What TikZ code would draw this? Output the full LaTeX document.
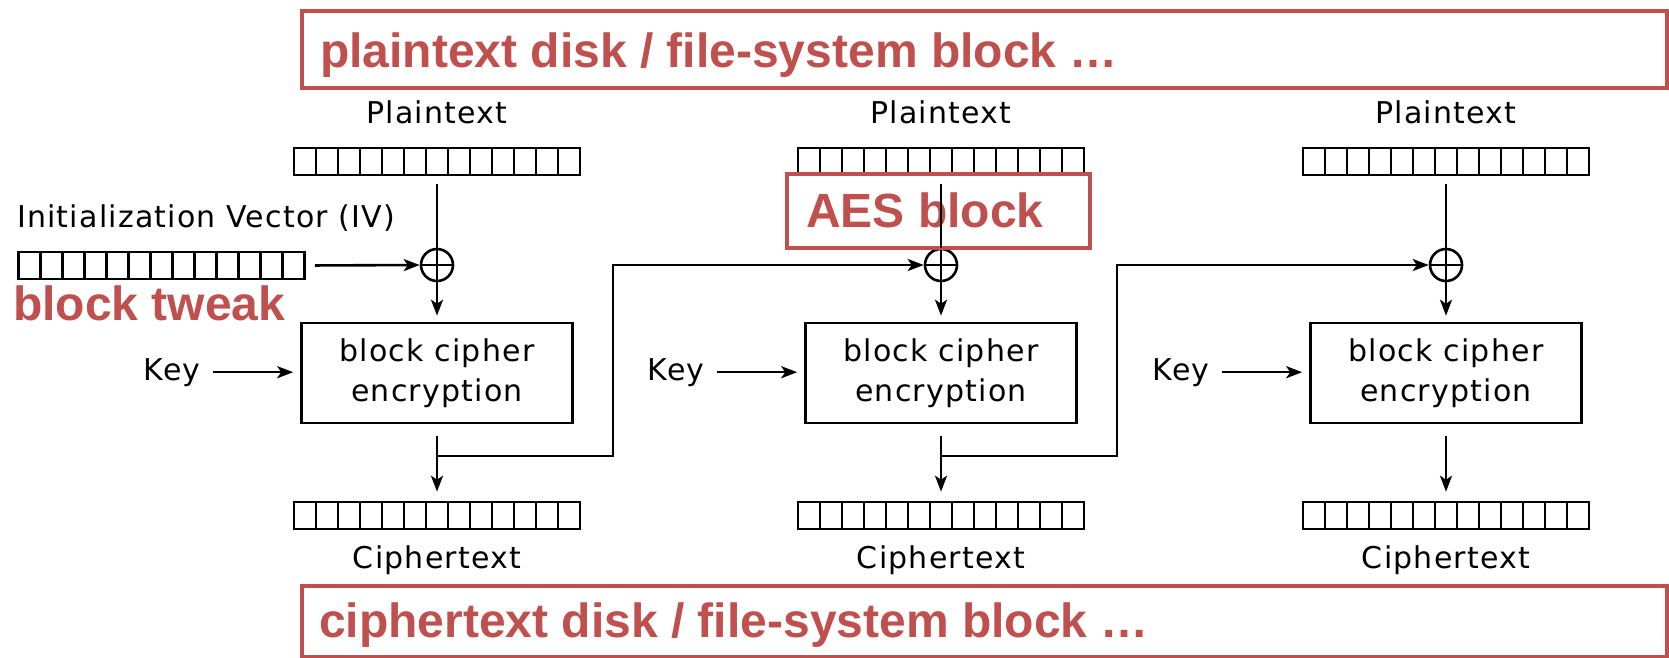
\documentclass[tikz,border=0pt]{standalone}
\usepackage{fontspec}
\setmainfont{DejaVu Sans}[LetterSpace=4]
\newfontfamily\redfont{Liberation Sans}
\usetikzlibrary{arrows.meta,calc}
\definecolor{slidered}{HTML}{C0504D}
\begin{document}
\begin{tikzpicture}[x=1pt,y=-1pt,
  lbl/.style={font=\fontsize{30}{36}\selectfont, inner sep=0},
  reg/.style={draw, line width=2.6pt, minimum width=286pt, minimum height=27pt, inner sep=0pt,
    path picture={\foreach \i in {1,...,12}{\draw[line width=2.4pt]
      ($(path picture bounding box.south west)!\i/13!(path picture bounding box.south east)$) --
      ($(path picture bounding box.north west)!\i/13!(path picture bounding box.north east)$);}}},
  cipherbox/.style={draw, line width=2.6pt, minimum width=271pt, minimum height=100pt, inner sep=0pt,
    align=center, font=\fontsize{30}{40}\selectfont},
  xor/.style={circle, draw, line width=2.6pt, minimum size=32pt, inner sep=0pt,
    path picture={\draw[line width=2.6pt] (path picture bounding box.north) -- (path picture bounding box.south)
      (path picture bounding box.west) -- (path picture bounding box.east);}},
  conn/.style={line width=2.6pt},
  arr/.style={conn, -{Stealth[length=16pt,width=12pt,inset=4pt]}},
  redbox/.style={draw=slidered, line width=4pt, inner sep=0pt},
  redtxt/.style={text=slidered, font=\redfont\bfseries\fontsize{48}{58}\selectfont, inner sep=0pt, anchor=base west}
]
\useasboundingbox (0,0) rectangle (1669,657);

% columns
\foreach \n/\c in {1/437, 2/941, 3/1446}{
  \node[lbl, anchor=base] (pl\n) at (\c,123) {Plaintext};
  \node[reg] (p\n) at (\c,161.5) {};
  \node[xor] (x\n) at (\c,265) {};
  \node[cipherbox] (b\n) at (\c,373) {block cipher\\encryption};
  \node[lbl, anchor=base] (k\n) at (\c-265,380) {Key};
  \node[reg] (c\n) at (\c,515.5) {};
  \node[lbl, anchor=base] (cl\n) at (\c,568) {Ciphertext};
}

% IV
\node[lbl, anchor=base west] (ivl) at (17,227) {Initialization Vector (IV)};
\node[reg] (iv) at (161.5,265.5) {};

% red annotations
\node[redbox, minimum width=1365pt, minimum height=77pt, anchor=north west] (topbox) at (300,9) {};
\node[redtxt] (toptxt) at (320,67) {plaintext disk / file-system block …};
\node[redbox, minimum width=1365pt, minimum height=71pt, anchor=north west] (botbox) at (300,584) {};
\node[redtxt] (bottxt) at (319,637) {ciphertext disk / file-system block …};
\node[redbox, minimum width=303pt, minimum height=74pt, anchor=north west] (aesbox) at (785,172) {};
\node[redtxt] (aestxt) at (806,227) {AES block};
\node[redtxt] (tweak) at (13,320) {block tweak};

% connectors
\foreach \n in {1,2,3}{
  \draw[conn, shorten <=8pt] (p\n.south) -- (x\n.north);
  \draw[arr, shorten >=6pt] (x\n.south) -- (b\n.north);
  \draw[arr, shorten <=12pt, shorten >=9pt] (b\n.south) -- (c\n.north);
  \draw[arr, shorten <=12pt, shorten >=7pt] (k\n.east) -- (k\n.east -| b\n.west);
}
\draw[arr, shorten <=9pt] (iv.east) -- (x1.west);

\coordinate (j1) at (437,456);
\coordinate (t1) at (613,456);
\coordinate (u1) at (613,265);
\coordinate (j2) at (941,456);
\coordinate (t2) at (1117,456);
\coordinate (u2) at (1117,265);
\draw[arr] (j1) -- (t1) -- (u1) -- (x2.west);
\draw[arr] (j2) -- (t2) -- (u2) -- (x3.west);
\end{tikzpicture}
\end{document}
